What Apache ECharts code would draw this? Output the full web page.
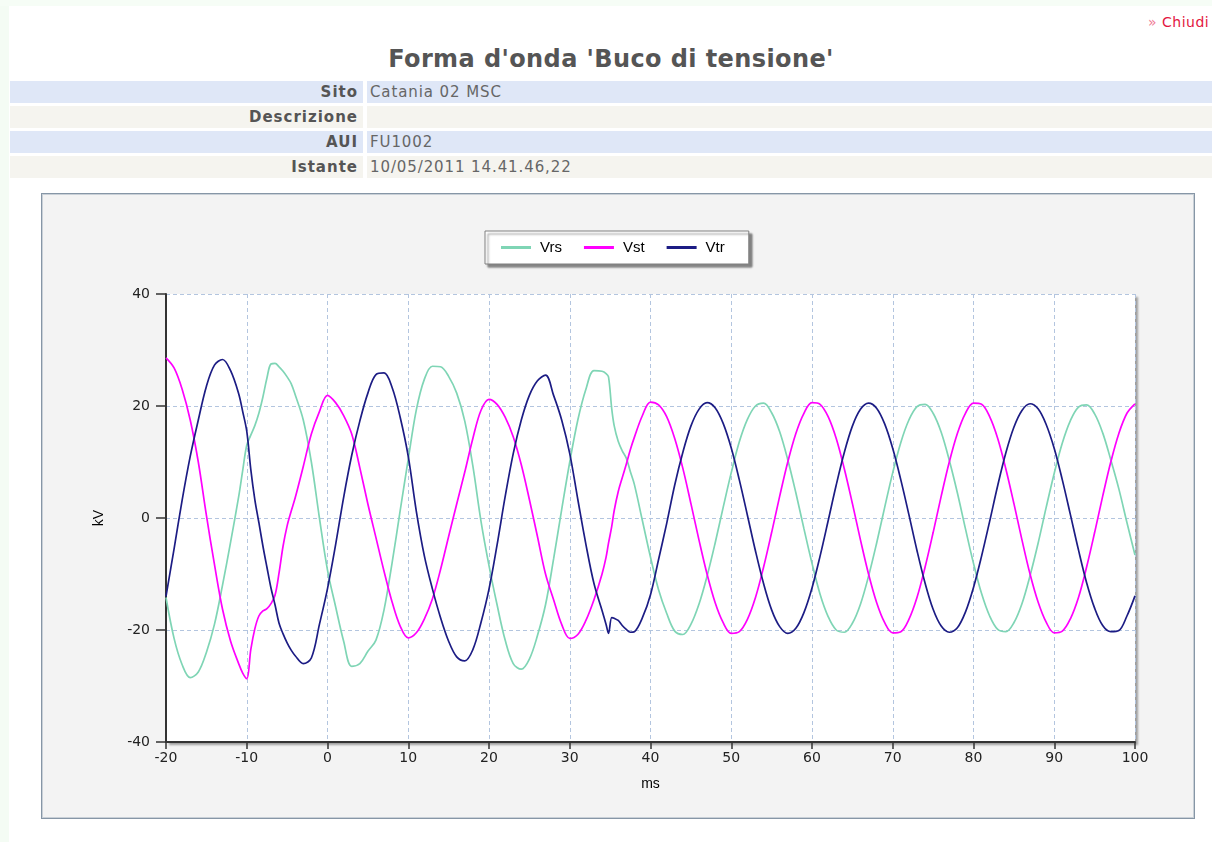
<!DOCTYPE html>
<html><head><meta charset="utf-8">
<script src="https://cdn.jsdelivr.net/npm/echarts@6/dist/echarts.min.js"></script>
<style>
html,body{margin:0;padding:0;background:#fff;width:1212px;height:842px;overflow:hidden;font-family:"DejaVu Sans",Verdana,sans-serif;}
#lstrip{position:absolute;left:0;top:0;width:9px;height:842px;background:#f4fcf4;}
#tstrip{position:absolute;left:0;top:0;width:1212px;height:6px;background:#f6fdf6;}
#chiudi{position:absolute;left:1148px;top:14px;font-size:14px;letter-spacing:0.5px;color:#e3173f;white-space:nowrap;}
#chiudi span{color:#f07a95;}
#title{position:absolute;left:10px;width:1202px;top:45px;text-align:center;font-weight:bold;font-size:24px;letter-spacing:0.4px;color:#555;}
.row{position:absolute;left:10px;width:1202px;height:22px;}
.lab{position:absolute;left:0;top:0;width:348px;padding-right:5px;height:22px;line-height:22px;text-align:right;font-weight:bold;font-size:15px;letter-spacing:1px;color:#555;}
.val{position:absolute;left:357px;right:0;top:0;height:22px;line-height:22px;padding-left:3px;font-size:15px;letter-spacing:0.9px;color:#666;}
.b .lab,.b .val{background:#dfe7f7;}
.g .lab,.g .val{background:#f5f4ef;}
#chart{position:absolute;left:41px;top:193px;width:1154px;height:626px;box-sizing:border-box;border:1px solid #8696a6;box-shadow:inset 0 0 0 1px #c9d0d7;background:#f3f3f3;}
</style>
</head><body>
<div id="lstrip"></div><div id="tstrip"></div>
<div id="chiudi"><span>»</span> Chiudi</div>
<div id="title">Forma d'onda 'Buco di tensione'</div>
<div class="row b" style="top:81px"><div class="lab">Sito</div><div class="val">Catania 02 MSC</div></div>
<div class="row g" style="top:106px"><div class="lab">Descrizione</div><div class="val"></div></div>
<div class="row b" style="top:131px"><div class="lab">AUI</div><div class="val">FU1002</div></div>
<div class="row g" style="top:156px"><div class="lab">Istante</div><div class="val">10/05/2011 14.41.46,22</div></div>
<div id="chart"></div>
<script>
const timeMs = [-20,-19,-18,-17,-16,-15,-14,-13,-12,-11,-10.5,-10,-9.5,-9,-8.5,-8,-7.5,-7,-6.5,-6,-5.5,-5,-4.5,-4,-3,-2,-1,
0,1,2,3,4,5,6,7,8,9,10,11,12,13,14,15,16,17,18,19,20,21,22,23,24,25,26,27,28,29,30,31,32,33,34,
34.5,34.8,35.2,35.5,36,36.5,37,37.5,38,
39,40,41,42,43,44,45,46,47,48,49,50,51,52,53,54,55,56,57,58,59,60,61,62,63,64,65,66,67,68,69,
70,71,72,73,74,75,76,77,78,79,80,81,82,83,84,85,86,87,88,89,90,91,92,93,94,95,96,97,98,99,100];

const vrs = [-14.2,-21.5,-26.2,-28.5,-27.5,-24.0,-19.0,-12.0,-4.3,3.8,8.5,13.0,14.8,16.5,18.7,21.6,25.0,27.5,27.6,27.0,26.2,25.2,24.0,22.0,17.5,10.0,0.0,
-9.3,-15.8,-22.0,-26.5,-26.0,-23.8,-21.8,-16.4,-8.0,1.3,10.5,19.3,24.8,27.1,27.0,25.3,22.3,17.3,9.3,-0.5,-8.5,-15.5,-21.8,-26.0,-27.0,-25.2,-21.0,-15.5,-7.3,1.5,10.0,17.5,23.0,26.3,26.2,
25.8,25.2,19.5,16.5,13.7,12.0,10.7,8.3,6.0,
-0.5,-7.0,-12.8,-17.0,-20.2,-20.8,-19.0,-15.4,-10.4,-4.5,1.9,8.1,13.6,17.6,20.0,20.5,18.8,15.4,10.4,4.5,-1.9,-8.1,-13.6,-17.6,-20.0,-20.4,-18.8,-15.4,-10.4,-4.5,1.9,
8.1,13.5,17.5,19.9,20.3,18.7,15.3,10.3,4.5,-1.9,-8.1,-13.5,-17.5,-19.9,-20.3,-18.7,-15.3,-10.3,-4.5,1.9,8.0,13.4,17.4,19.8,20.2,18.6,15.2,10.4,5.2,-0.8,-6.6];

const vst = [28.6,26.8,23.0,17.5,10.0,0.5,-8.3,-16.3,-22.0,-26.0,-27.7,-28.7,-23.5,-19.8,-17.5,-16.6,-16.2,-15.3,-13.8,-9.8,-5.0,-1.4,1.2,3.6,9.2,15.0,19.0,
21.9,20.6,18.3,15.0,9.0,2.5,-3.5,-9.5,-15.0,-19.3,-21.4,-20.5,-18.0,-14.4,-9.2,-3.3,2.5,8.2,14.2,19.2,21.2,20.3,18.0,14.5,9.5,3.3,-3.3,-10.0,-14.6,-19.0,-21.5,-20.8,-18.3,-14.6,-10.0,
-7.0,-4.5,-1.5,1.3,4.7,7.2,9.6,12.2,14.4,
18.3,20.7,20.2,18.1,14.2,8.9,2.6,-3.9,-10.0,-15.1,-18.7,-20.6,-20.3,-18.1,-14.2,-8.8,-2.6,3.9,10.0,15.1,18.7,20.6,20.3,18.1,14.2,8.8,2.6,-3.9,-10.0,-15.1,-18.7,
-20.5,-20.3,-18.1,-14.2,-8.8,-2.6,3.9,10.0,15.1,18.7,20.5,20.3,18.1,14.2,8.8,2.6,-3.9,-10.0,-15.0,-18.6,-20.5,-20.2,-18.0,-14.2,-8.8,-2.6,3.9,10.0,15.1,18.7,20.4];

const vtr = [-14.0,-5.5,3.2,11.0,17.5,23.5,27.3,28.3,26.3,22.2,19.0,15.5,8.7,3.3,-0.8,-5.0,-8.8,-12.5,-15.5,-18.8,-20.7,-22.3,-23.6,-24.6,-26.0,-25.0,-19.0,
-12.6,-4.8,3.7,11.2,17.3,22.3,25.6,25.9,23.3,18.0,11.0,1.2,-6.8,-12.7,-17.8,-22.0,-24.8,-25.5,-23.5,-18.7,-12.7,-4.8,3.8,11.5,17.5,21.9,24.5,25.5,21.9,17.5,11.5,3.3,-4.7,-11.7,-16.5,
-19.0,-20.6,-17.8,-17.9,-18.3,-19.2,-19.9,-20.4,-20.3,
-17.8,-13.7,-7.4,-1.0,5.9,11.7,16.4,19.4,20.6,19.7,16.9,12.5,6.8,0.5,-5.9,-11.7,-16.4,-19.4,-20.6,-19.7,-16.9,-12.5,-6.8,-0.5,5.9,11.7,16.4,19.4,20.5,19.6,16.8,
12.4,6.8,0.6,-5.8,-11.6,-16.3,-19.3,-20.4,-19.6,-16.8,-12.4,-6.8,-0.6,5.8,11.6,16.2,19.2,20.4,19.5,16.7,12.4,6.8,0.6,-5.7,-11.5,-16.1,-19.2,-20.3,-20.1,-17.5,-13.9];

const seriesNames = ['Vrs','Vst','Vtr'];
const seriesColors = ['#7fd5b5','#ff00ff','#1c1c84'];
const xTicks = {min:-20, max:100, step:10};
const yTicks = {min:-40, max:40, step:20};

const pairs = arr => timeMs.map((t,i)=>[t, arr[i]]);
const chart = echarts.init(document.getElementById('chart'), null, {renderer:'canvas'});
const gridLine = {show:true, lineStyle:{color:'#b3c5df', type:[4,3], width:1}};
const axisFont = {fontFamily:'DejaVu Sans', fontSize:14, color:'#222'};
chart.setOption({
  animation:false,
  color: seriesColors,
  legend:{
    data: seriesNames, left:443, top:37, orient:'horizontal',
    icon:'rect', itemWidth:30, itemHeight:3, itemGap:22,
    padding:[9,24,9,16],
    backgroundColor:'#fff', borderColor:'#7f7f7f', borderWidth:1,
    shadowColor:'rgba(0,0,0,0.45)', shadowBlur:2, shadowOffsetX:3, shadowOffsetY:3,
    textStyle:{fontFamily:'Liberation Sans', fontSize:15, color:'#000', padding:[0,0,0,4]}
  },
  grid:{left:124, top:100, width:969, height:448, show:true, backgroundColor:'#fff', borderWidth:0,
    shadowColor:'rgba(0,0,0,0.35)', shadowBlur:2, shadowOffsetX:3, shadowOffsetY:3},
  xAxis:{type:'value', min:xTicks.min, max:xTicks.max, interval:xTicks.step,
    name:'ms', nameLocation:'middle', nameGap:35,
    nameTextStyle:{fontFamily:'Liberation Sans', fontSize:14, color:'#000'},
    axisLine:{show:true, onZero:false, lineStyle:{color:'#333', width:2}},
    axisTick:{show:true, length:7, lineStyle:{color:'#333', width:1.5}},
    axisLabel:Object.assign({margin:9}, axisFont),
    splitLine:gridLine},
  yAxis:{type:'value', min:yTicks.min, max:yTicks.max, interval:yTicks.step,
    name:'kV', nameLocation:'middle', nameGap:60,
    nameTextStyle:{fontFamily:'Liberation Sans', fontSize:14, color:'#000'},
    axisLine:{show:true, onZero:false, lineStyle:{color:'#333', width:2}},
    axisTick:{show:true, length:10, lineStyle:{color:'#333', width:1.5}},
    axisLabel:Object.assign({margin:16}, axisFont),
    splitLine:gridLine},
  series:[vrs, vst, vtr].map((arr,i)=>({
    name:seriesNames[i], type:'line', data:pairs(arr), showSymbol:false, symbol:'none',
    smooth:0.35, lineStyle:{width:1.7, color:seriesColors[i]}, itemStyle:{color:seriesColors[i]}
  }))
});
</script>
</body></html>
